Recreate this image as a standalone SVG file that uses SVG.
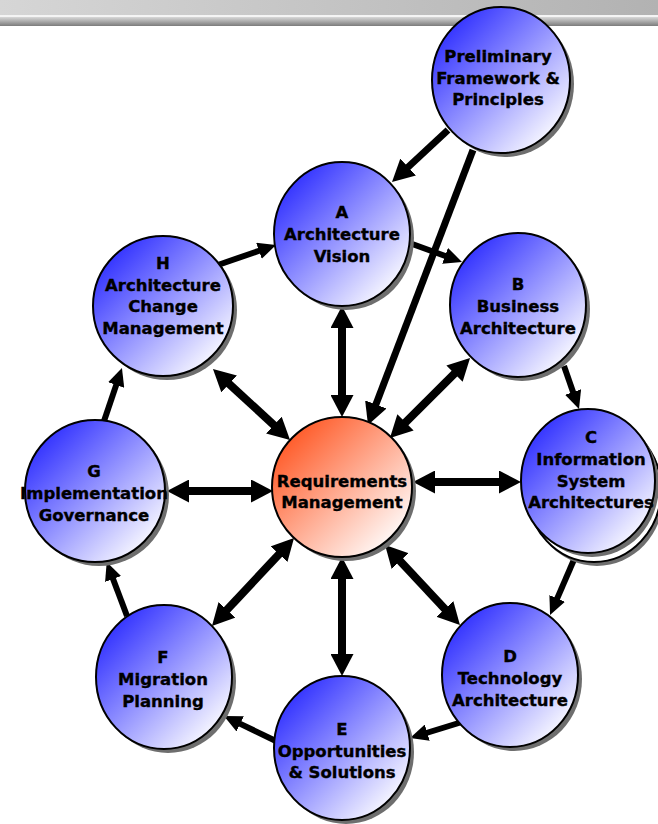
<svg xmlns="http://www.w3.org/2000/svg" width="658" height="824" viewBox="0 0 658 824">
<defs>
<linearGradient id="barTop" x1="0" y1="0" x2="1" y2="0"><stop offset="0" stop-color="#d6d6d6"/><stop offset="1" stop-color="#b2b2b2"/></linearGradient>
<linearGradient id="barLow" x1="0" y1="0" x2="0" y2="1"><stop offset="0" stop-color="#d8d8d8"/><stop offset="1" stop-color="#7c7c7c"/></linearGradient>
<linearGradient id="blue" x1="0.15" y1="0.15" x2="0.9" y2="0.9"><stop offset="0" stop-color="#3838ff"/><stop offset="1" stop-color="#ffffff"/></linearGradient>
<linearGradient id="orange" x1="0.15" y1="0.15" x2="0.9" y2="0.9"><stop offset="0" stop-color="#ff5f2e"/><stop offset="1" stop-color="#ffffff"/></linearGradient>
<marker id="big" markerUnits="userSpaceOnUse" markerWidth="22" markerHeight="23" refX="1" refY="11.5" orient="auto-start-reverse" viewBox="0 0 22 23"><path d="M0,0 L22,11.5 L0,23 z" fill="#000"/></marker>
<marker id="small" markerUnits="userSpaceOnUse" markerWidth="18" markerHeight="17" refX="1" refY="8.5" orient="auto-start-reverse" viewBox="0 0 18 17"><path d="M0,0 L18,8.5 L0,17 z" fill="#000"/></marker>
</defs>
<style>
.shadow{fill:#6e6e6e}
.node{fill:url(#blue);stroke:#000;stroke-width:2}
.req{fill:url(#orange);stroke:#000;stroke-width:2}
.back{fill:#fff;stroke:#000;stroke-width:2}
text{font-family:"DejaVu Sans","Verdana",sans-serif;font-weight:bold;font-size:16.5px;fill:#000;stroke:#000;stroke-width:0.35px;text-anchor:middle}
.dbl{stroke:#000;stroke-width:8;fill:none;marker-start:url(#big);marker-end:url(#big)}
.one{stroke:#000;stroke-width:7;fill:none;marker-end:url(#big)}
.ring{stroke:#000;stroke-width:6;fill:none;marker-end:url(#small)}
</style>
<rect width="658" height="824" fill="#fff"/>
<g id="header">
<rect x="0" y="0" width="658" height="15" fill="url(#barTop)"/>
<rect x="0" y="15" width="658" height="2" fill="#f4f4f4"/>
<rect x="0" y="17" width="658" height="9" fill="url(#barLow)"/>
</g>
<g id="connectors">
<line class="one" x1="448" y1="130" x2="407.4" y2="167.7"/>
<line class="one" x1="473" y1="150" x2="375.5" y2="405.4"/>
<line class="dbl" x1="342" y1="327" x2="342" y2="396"/>
<line class="dbl" x1="455.2" y1="372.8" x2="404.8" y2="423.2"/>
<line class="dbl" x1="500" y1="482" x2="434" y2="482"/>
<line class="dbl" x1="399.4" y1="560.3" x2="445.6" y2="609.7"/>
<line class="dbl" x1="342" y1="578" x2="342" y2="655"/>
<line class="dbl" x1="279.7" y1="553.4" x2="226.3" y2="610.6"/>
<line class="dbl" x1="188" y1="491" x2="252" y2="491"/>
<line class="dbl" x1="228.4" y1="383.2" x2="274.6" y2="425.8"/>
<line class="ring" x1="215" y1="266" x2="259.9" y2="250.5"/>
<line class="ring" x1="404" y1="241" x2="446" y2="256.2"/>
<line class="ring" x1="564" y1="366" x2="573.4" y2="393"/>
<line class="ring" x1="576" y1="555" x2="556.8" y2="599.4"/>
<line class="ring" x1="462" y1="722" x2="426.3" y2="733"/>
<line class="ring" x1="280" y1="743" x2="239.3" y2="723.4"/>
<line class="ring" x1="127" y1="616" x2="112.7" y2="578"/>
<line class="ring" x1="102" y1="427" x2="116.5" y2="384.1"/>
</g>
<g id="node-preliminary">
<ellipse class="shadow" cx="505" cy="84" rx="69" ry="73"/>
<ellipse class="node" cx="501" cy="80" rx="69" ry="73"/>
<text x="498" y="62">Preliminary</text>
<text x="498" y="84">Framework &amp;</text>
<text x="498" y="105">Principles</text>
</g>
<g id="node-a">
<ellipse class="shadow" cx="346" cy="238" rx="68" ry="72"/>
<ellipse class="node" cx="342" cy="234" rx="68" ry="72"/>
<text x="342" y="218">A</text>
<text x="342" y="240">Architecture</text>
<text x="342" y="262">Vision</text>
</g>
<g id="node-b">
<ellipse class="shadow" cx="522" cy="309" rx="68" ry="72"/>
<ellipse class="node" cx="518" cy="305" rx="68" ry="72"/>
<text x="518" y="290">B</text>
<text x="518" y="312">Business</text>
<text x="518" y="334">Architecture</text>
</g>
<g id="node-c">
<ellipse class="shadow" cx="597" cy="494" rx="67" ry="72"/>
<ellipse class="back" cx="594" cy="490" rx="67" ry="72"/>
<ellipse class="shadow" cx="592" cy="485" rx="67" ry="72"/>
<ellipse class="node" cx="588" cy="481" rx="67" ry="72"/>
<text x="591" y="443">C</text>
<text x="591" y="465">Information</text>
<text x="591" y="487">System</text>
<text x="591" y="508">Architectures</text>
</g>
<g id="node-d">
<ellipse class="shadow" cx="514" cy="679" rx="68" ry="72"/>
<ellipse class="node" cx="510" cy="675" rx="68" ry="72"/>
<text x="510" y="662">D</text>
<text x="510" y="684">Technology</text>
<text x="510" y="706">Architecture</text>
</g>
<g id="node-e">
<ellipse class="shadow" cx="346" cy="752" rx="68" ry="72"/>
<ellipse class="node" cx="342" cy="748" rx="68" ry="72"/>
<text x="342" y="735">E</text>
<text x="342" y="757">Opportunities</text>
<text x="342" y="778">&amp; Solutions</text>
</g>
<g id="node-f">
<ellipse class="shadow" cx="168" cy="681" rx="68" ry="72"/>
<ellipse class="node" cx="164" cy="677" rx="68" ry="72"/>
<text x="163" y="663">F</text>
<text x="163" y="685">Migration</text>
<text x="163" y="707">Planning</text>
</g>
<g id="node-g">
<ellipse class="shadow" cx="99" cy="495" rx="70" ry="71"/>
<ellipse class="node" cx="95" cy="491" rx="70" ry="71"/>
<text x="94" y="477">G</text>
<text x="94" y="499">Implementation</text>
<text x="94" y="521">Governance</text>
</g>
<g id="node-h">
<ellipse class="shadow" cx="167" cy="310" rx="70" ry="70"/>
<ellipse class="node" cx="163" cy="306" rx="70" ry="70"/>
<text x="163" y="269">H</text>
<text x="163" y="291">Architecture</text>
<text x="163" y="312">Change</text>
<text x="163" y="334">Management</text>
</g>
<g id="node-req">
<ellipse class="shadow" cx="346" cy="491" rx="70" ry="70"/>
<ellipse class="req" cx="342" cy="487" rx="70" ry="70"/>
<text x="342" y="487">Requirements</text>
<text x="342" y="508">Management</text>
</g>
</svg>
